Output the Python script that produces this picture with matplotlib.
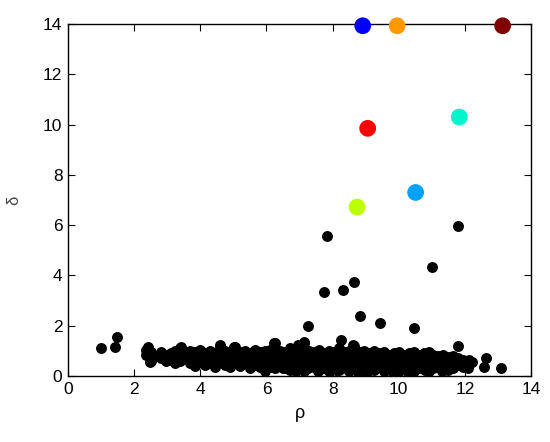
import numpy as np
import matplotlib
matplotlib.use('Agg')
import matplotlib.pyplot as plt

plt.rcParams['font.family'] = ['Liberation Sans', 'DejaVu Sans']

# dense band of low-delta points (rho, delta)
band_x = [2.35, 2.35, 2.5, 2.5, 2.65, 2.8, 2.8, 2.95, 2.95, 3.1, 3.1,
          3.25, 3.25, 3.25, 3.4, 3.4, 3.4, 3.55, 3.55, 3.7, 3.7, 3.7,
          3.85, 3.85, 3.85, 4.0, 4.0, 4.0, 4.15, 4.15, 4.15, 4.3, 4.3, 4.3,
          4.45, 4.45, 4.45, 4.6, 4.6, 4.6, 4.75, 4.75, 4.75, 4.9, 4.9, 4.9,
          5.05, 5.05, 5.05, 5.2, 5.2, 5.2, 5.35, 5.35, 5.35, 5.5, 5.5, 5.5,
          5.65, 5.65, 5.65, 5.8, 5.8, 5.8, 5.95, 5.95, 5.95, 6.1, 6.1, 6.1,
          6.25, 6.25, 6.25, 6.25, 6.4, 6.4, 6.4, 6.55, 6.55, 6.55,
          6.7, 6.7, 6.7, 6.7, 6.85, 6.85, 6.85, 7.0, 7.0, 7.0, 7.0,
          7.15, 7.15, 7.15, 7.15, 7.15, 7.3, 7.3, 7.3, 7.45, 7.45, 7.45,
          7.6, 7.6, 7.6, 7.6, 7.75, 7.75, 7.75, 7.9, 7.9, 7.9, 7.9,
          8.05, 8.05, 8.05, 8.2, 8.2, 8.2, 8.2, 8.35, 8.35, 8.35,
          8.5, 8.5, 8.5, 8.5, 8.65, 8.65, 8.65, 8.65, 8.8, 8.8, 8.8,
          8.95, 8.95, 8.95, 8.95, 9.1, 9.1, 9.1, 9.25, 9.25, 9.25, 9.25,
          9.4, 9.4, 9.4, 9.55, 9.55, 9.55, 9.55, 9.7, 9.7, 9.7,
          9.85, 9.85, 9.85, 9.85, 10.0, 10.0, 10.0, 10.0, 10.15, 10.15, 10.15,
          10.3, 10.3, 10.3, 10.45, 10.45, 10.45, 10.45, 10.6, 10.6, 10.6,
          10.75, 10.75, 10.75, 10.9, 10.9, 10.9, 10.9, 11.05, 11.05, 11.05,
          11.2, 11.2, 11.2, 11.35, 11.35, 11.35, 11.5, 11.5, 11.5,
          11.65, 11.65, 11.65, 11.8, 11.8, 11.95, 11.95, 12.1, 12.1, 12.2,
          # filler points in the densest part of the band
          6.05, 6.35, 6.6, 6.8, 7.05, 7.4, 7.7, 7.95, 8.15, 8.45, 8.7, 8.9,
          9.15, 9.45, 9.65, 9.9, 10.1, 10.4, 10.65, 10.85, 11.1, 11.4,
          6.15, 6.5, 6.9, 7.25, 7.55, 7.85, 8.1, 8.4, 8.75, 9.05, 9.35,
          9.6, 9.95, 10.25, 10.55, 10.8, 11.0, 11.3, 11.6]
band_y = [1.05, 0.85, 0.95, 0.6, 0.8, 0.95, 0.7, 0.85, 0.6, 0.9, 0.65,
          1.0, 0.75, 0.5, 1.1, 0.85, 0.6, 0.9, 0.7, 1.0, 0.8, 0.5,
          0.95, 0.65, 0.4, 1.05, 0.8, 0.55, 0.9, 0.7, 0.45, 1.0, 0.75, 0.5,
          0.9, 0.65, 0.35, 1.2, 0.85, 0.6, 1.0, 0.7, 0.45, 0.9, 0.6, 0.35,
          1.15, 0.8, 0.5, 0.95, 0.7, 0.4, 1.0, 0.75, 0.5, 0.9, 0.6, 0.3,
          1.05, 0.8, 0.45, 0.95, 0.65, 0.35, 1.0, 0.7, 0.2, 1.05, 0.8, 0.5,
          1.3, 0.9, 0.6, 0.3, 1.0, 0.75, 0.45, 0.95, 0.6, 0.3,
          1.1, 0.8, 0.5, 0.25, 1.0, 0.7, 0.4, 1.2, 0.9, 0.6, 0.3,
          1.3, 1.0, 0.7, 0.45, 0.2, 1.0, 0.75, 0.5, 0.95, 0.65, 0.35,
          1.05, 0.8, 0.5, 0.25, 0.9, 0.6, 0.3, 1.0, 0.75, 0.45, 0.2,
          0.95, 0.7, 0.4, 1.1, 0.8, 0.5, 0.25, 0.95, 0.65, 0.35,
          1.0, 0.75, 0.45, 0.2, 1.2, 0.85, 0.55, 0.3, 0.95, 0.65, 0.35,
          1.0, 0.7, 0.45, 0.2, 0.9, 0.6, 0.3, 1.0, 0.75, 0.5, 0.25,
          0.9, 0.65, 0.4, 0.95, 0.7, 0.45, 0.2, 0.85, 0.6, 0.3,
          0.9, 0.65, 0.4, 0.05, 0.95, 0.7, 0.45, 0.2, 0.85, 0.6, 0.3,
          0.9, 0.65, 0.4, 0.95, 0.7, 0.45, 0.2, 0.85, 0.6, 0.3,
          0.9, 0.65, 0.4, 0.95, 0.7, 0.45, 0.2, 0.85, 0.6, 0.3,
          0.8, 0.55, 0.35, 0.85, 0.6, 0.3, 0.75, 0.5, 0.25,
          0.8, 0.55, 0.3, 0.7, 0.45, 0.65, 0.35, 0.6, 0.3, 0.55,
          0.6, 0.55, 0.45, 0.6, 0.45, 0.6, 0.45, 0.6, 0.65, 0.6, 0.7, 0.55,
          0.75, 0.55, 0.7, 0.55, 0.75, 0.55, 0.7, 0.55, 0.7, 0.45,
          0.35, 0.3, 0.2, 0.3, 0.2, 0.35, 0.25, 0.3, 0.2, 0.15, 0.35,
          0.25, 0.3, 0.2, 0.3, 0.25, 0.35, 0.2, 0.4]

# scattered black points above / beside the band
out_x = [1.0, 1.48, 1.43, 2.41, 2.49, 3.42, 4.6, 5.03, 6.24, 6.95, 7.15,
         7.27, 8.26, 8.61, 8.82, 9.43, 10.47, 7.73, 8.31, 8.64, 7.83,
         10.99, 11.78, 11.78, 12.13, 12.19, 12.64, 12.57, 13.09]
out_y = [1.1, 1.54, 1.17, 1.17, 0.57, 1.17, 1.24, 1.17, 1.33, 1.24, 1.37,
         1.99, 1.44, 1.24, 2.37, 2.1, 1.9, 3.35, 3.43, 3.72, 5.58,
         4.34, 5.96, 1.2, 0.64, 0.56, 0.71, 0.37, 0.31]

# cluster centres
center_x = [8.91, 9.95, 13.14, 9.06, 11.83, 10.51, 8.74]
center_y = [13.93, 13.93, 13.93, 9.85, 10.3, 7.3, 6.72]
center_c = ['#0000ff', '#ff9900', '#800000', '#ff0000', '#00f5cc', '#00a2ff', '#bbff00']

fig = plt.figure(figsize=(5.5, 4.42), dpi=100)
ax = fig.add_axes([0.1236, 0.1493, 0.842, 0.7964])

ax.scatter(band_x, band_y, s=62, c='black', linewidths=0, zorder=2)
ax.scatter(out_x, out_y, s=62, c='black', linewidths=0, zorder=2)
ax.scatter(center_x, center_y, s=145, c=center_c, linewidths=0, zorder=3, clip_on=False)

ax.set_xlim(0, 14)
ax.set_ylim(0, 14)
ax.set_xticks(np.arange(0, 15, 2))
ax.set_yticks(np.arange(0, 15, 2))
ax.tick_params(direction='in', top=True, right=True, length=5, labelsize=12.5, pad=4)
for sp in ax.spines.values():
    sp.set_linewidth(1.0)

ax.set_xlabel('ρ', fontsize=13, labelpad=6)
ax.set_ylabel('δ', fontsize=12, color='#444444', labelpad=16)

fig.savefig('out.png', dpi=100)
